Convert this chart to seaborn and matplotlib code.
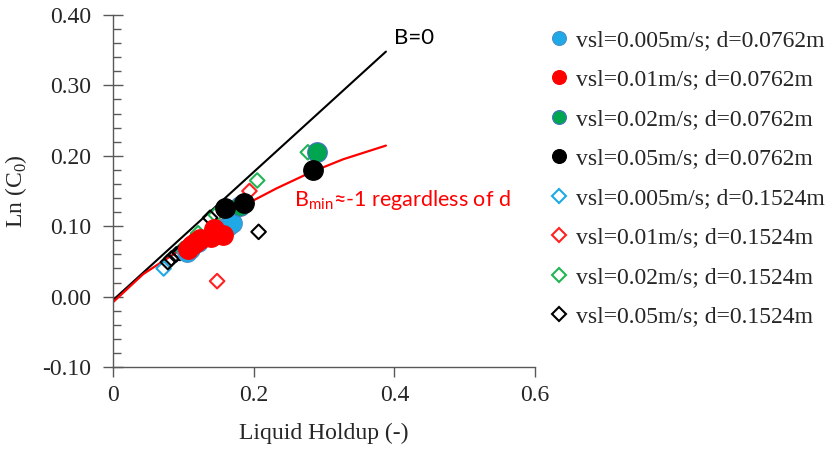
import matplotlib
matplotlib.use("Agg")
import matplotlib.pyplot as plt
import seaborn as sns
import pandas as pd
import numpy as np
from matplotlib.lines import Line2D
from matplotlib.ticker import MultipleLocator

# ---- data ----
labels = [
    "vsl=0.005m/s; d=0.0762m",
    "vsl=0.01m/s; d=0.0762m",
    "vsl=0.02m/s; d=0.0762m",
    "vsl=0.05m/s; d=0.0762m",
    "vsl=0.005m/s; d=0.1524m",
    "vsl=0.01m/s; d=0.1524m",
    "vsl=0.02m/s; d=0.1524m",
    "vsl=0.05m/s; d=0.1524m",
]
x_s1 = [0.105, 0.110, 0.121, 0.163, 0.169]
y_s1 = [0.063, 0.068, 0.078, 0.100, 0.104]
x_s2 = [0.106, 0.112, 0.118, 0.124, 0.140, 0.143, 0.147, 0.157]
y_s2 = [0.068, 0.074, 0.078, 0.082, 0.084, 0.096, 0.089, 0.087]
x_s3 = [0.180, 0.290]
y_s3 = [0.129, 0.205]
x_s4 = [0.159, 0.186, 0.284]
y_s4 = [0.126, 0.133, 0.180]
x_s5 = [0.072]
y_s5 = [0.040]
x_s6 = [0.148, 0.194]
y_s6 = [0.022, 0.150]
x_s7 = [0.098, 0.121, 0.146, 0.205, 0.277]
y_s7 = [0.067, 0.090, 0.116, 0.165, 0.205]
x_s8 = [0.078, 0.083, 0.090, 0.095, 0.103, 0.138, 0.159, 0.207]
y_s8 = [0.049, 0.054, 0.060, 0.062, 0.070, 0.112, 0.100, 0.092]

xs = [x_s1, x_s2, x_s3, x_s4, x_s5, x_s6, x_s7, x_s8]
ys = [y_s1, y_s2, y_s3, y_s4, y_s5, y_s6, y_s7, y_s8]

b0_x = [0.0, 0.388]
b0_y = [-0.005, 0.348]
bmin_x = [0.0, 0.043, 0.0905, 0.138, 0.185, 0.233, 0.280, 0.327, 0.388]
bmin_y = [-0.008, 0.032, 0.063, 0.098, 0.129, 0.154, 0.176, 0.195, 0.2145]

xticks = [0, 0.2, 0.4, 0.6]
xtick_labels = ["0", "0.2", "0.4", "0.6"]
yticks = [-0.10, 0.00, 0.10, 0.20, 0.30, 0.40]
ytick_labels = ["-0.10", "0.00", "0.10", "0.20", "0.30", "0.40"]

# ---- styles ----
colors = ["#1FA9E6", "#FF0000", "#00A550", "#000000",
          "#1FA9E6", "#FF2020", "#22B455", "#000000"]
edge_filled = ["#4A90C8", "#FF0000", "#4472C4", "#000000"]
SERIF = ["Liberation Serif", "DejaVu Serif"]
SANS = ["Lato", "DejaVu Sans"]

sns.set_theme(style="white")
plt.rcParams["font.family"] = SERIF
plt.rcParams["mathtext.fontset"] = "custom"
plt.rcParams["mathtext.rm"] = "Liberation Serif"
plt.rcParams["mathtext.sf"] = "Lato"

fig = plt.figure(figsize=(8.29, 4.49), dpi=100)
ax = fig.add_axes([0.1363, 0.1826, 0.6454 - 0.1363, 0.9666 - 0.1826])

rows = []
for i, (xx, yy) in enumerate(zip(xs, ys)):
    for a, b in zip(xx, yy):
        rows.append({"x": a, "y": b, "series": labels[i]})
df = pd.DataFrame(rows)

# lines
sns.lineplot(x=b0_x, y=b0_y, ax=ax, color="black", lw=1.5, estimator=None, sort=False)
sns.lineplot(x=bmin_x, y=bmin_y, ax=ax, color="#FF0000", lw=1.6, estimator=None, sort=False)

# diamonds first (open), then filled circles
for i in range(4, 8):
    d = df[df.series == labels[i]]
    sns.scatterplot(data=d, x="x", y="y", ax=ax, marker="D", s=55,
                    facecolor="none", edgecolor=colors[i], linewidth=1.5, zorder=3)
for i in range(4):
    d = df[df.series == labels[i]]
    sns.scatterplot(data=d, x="x", y="y", ax=ax, marker="o", s=200,
                    color=colors[i], edgecolor=edge_filled[i], linewidth=0.8, zorder=4)

ax.set_xlim(0, 0.6)
ax.set_ylim(-0.10, 0.40)
ax.set_xticks(xticks)
ax.set_xticklabels(xtick_labels, fontfamily=SERIF, fontsize=17)
ax.set_yticks(yticks)
ax.set_yticklabels(ytick_labels, fontfamily=SERIF, fontsize=17)
ax.yaxis.set_minor_locator(MultipleLocator(0.02))

for s in ["top", "right"]:
    ax.spines[s].set_visible(False)
for s in ["left", "bottom"]:
    ax.spines[s].set_color("#595959")
    ax.spines[s].set_linewidth(1.0)

ax.tick_params(axis="y", which="major", direction="inout", length=15, width=1.0,
               color="#595959", pad=8, left=True)
ax.tick_params(axis="y", which="minor", direction="in", length=6, width=1.0,
               color="#595959", left=True)
ax.tick_params(axis="x", which="major", direction="out", length=7, width=1.0,
               color="#595959", pad=6, bottom=True)

ax.set_xlabel("Liquid Holdup (-)", fontsize=17, labelpad=12, fontfamily=SERIF)
ax.set_ylabel(r"Ln (C$_\mathregular{0}$)", fontsize=17, labelpad=10, fontfamily=SERIF)

ax.text(0.3995, 0.368, "B=0", fontsize=16, family=SANS,
        color="black", va="center", ha="left")
ax.text(0.258, 0.137, r"$\mathsf{B_{min}}$≈-1 regardless of d", fontsize=15.5,
        family=SANS, color="#FF0000", va="center", ha="left")

handles = []
for i in range(8):
    if i < 4:
        handles.append(Line2D([], [], ls="none", marker="o", markersize=10,
                              markerfacecolor=colors[i], markeredgecolor=edge_filled[i],
                              markeredgewidth=0.8))
    else:
        handles.append(Line2D([], [], ls="none", marker="D", markersize=7,
                              markerfacecolor="none", markeredgecolor=colors[i],
                              markeredgewidth=1.5))
fig.legend(handles, labels, loc="upper left", bbox_to_anchor=(0.663, 0.934),
           frameon=False, handlelength=0.8, handletextpad=0.3,
           labelspacing=0.76, borderaxespad=0, borderpad=0,
           prop={"family": SERIF, "size": 17})

fig.savefig("out.png", dpi=100)
